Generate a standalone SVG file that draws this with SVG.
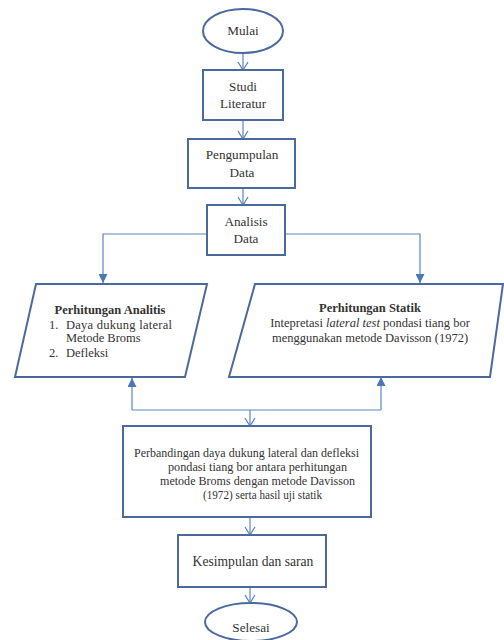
<svg xmlns="http://www.w3.org/2000/svg" width="504" height="640" viewBox="0 0 504 640" font-family="'Liberation Serif', 'DejaVu Serif', serif">
<style>
.shape{fill:#ffffff;stroke:#4a6a9e;stroke-width:2}
.conn{fill:none;stroke:#5b86c0;stroke-width:1.2}
text{font-family:'Liberation Serif','DejaVu Serif',serif;font-size:12.5px;fill:#333333}
.c{text-anchor:middle}
.b{font-weight:bold}
.l{font-size:13.2px}
.xl{font-size:13.6px}
</style>
<defs>
<marker id="open" markerWidth="10" markerHeight="12" refX="9" refY="6" orient="auto" markerUnits="userSpaceOnUse" viewBox="0 0 10 12">
<path d="M1,1 L9,6 L1,11" fill="none" stroke="#5b86c0" stroke-width="1.3"/>
</marker>
<marker id="fill" markerWidth="9" markerHeight="9" refX="9" refY="4.5" orient="auto" markerUnits="userSpaceOnUse" viewBox="0 0 9 9">
<path d="M0,0 L9,4.5 L0,9 Z" fill="#4a78b5"/>
</marker>
</defs>
<rect width="504" height="640" fill="#ffffff"/>
<g id="connectors">
<line class="conn" x1="243" y1="53" x2="243" y2="70" marker-end="url(#open)"/>
<line class="conn" x1="243" y1="120" x2="243" y2="139" marker-end="url(#open)"/>
<line class="conn" x1="243" y1="188" x2="243" y2="205" marker-end="url(#open)"/>
<polyline class="conn" points="207,234 103,234 103,283" marker-end="url(#fill)"/>
<polyline class="conn" points="285,234 420,234 420,283" marker-end="url(#fill)"/>
<polyline class="conn" points="132,410 132,378" marker-end="url(#fill)"/>
<polyline class="conn" points="381,410 381,377" marker-end="url(#fill)"/>
<line class="conn" x1="132" y1="410" x2="381" y2="410"/>
<line class="conn" x1="250" y1="410" x2="250" y2="426" marker-end="url(#open)"/>
<line class="conn" x1="250" y1="517" x2="250" y2="535" marker-end="url(#open)"/>
<line class="conn" x1="250" y1="587" x2="250" y2="603" marker-end="url(#open)"/>
</g>
<g id="mulai">
<ellipse class="shape" cx="243" cy="31" rx="40" ry="22"/>
<text class="c l" x="243" y="35">Mulai</text>
</g>
<g id="studi">
<rect class="shape" x="203" y="70" width="80" height="50"/>
<text class="c l" x="243" y="91">Studi</text>
<text class="c l" x="243" y="108">Literatur</text>
</g>
<g id="pengumpulan">
<rect class="shape" x="188" y="139" width="107" height="49"/>
<text class="c l" x="242" y="159">Pengumpulan</text>
<text class="c l" x="242" y="177">Data</text>
</g>
<g id="analisis">
<rect class="shape" x="207" y="205" width="78" height="50"/>
<text class="c l" x="246" y="226">Analisis</text>
<text class="c l" x="246" y="243">Data</text>
</g>
<g id="analitis">
<polygon class="shape" points="36,284 207,284 185,377 15,377"/>
<text class="c b" x="110" y="314">Perhitungan Analitis</text>
<text x="49" y="329">1.</text>
<text x="66" y="329" textLength="106" lengthAdjust="spacing">Daya dukung lateral</text>
<text x="66" y="342">Metode Broms</text>
<text x="49" y="357">2.</text>
<text x="66" y="357">Defleksi</text>
</g>
<g id="statik">
<polygon class="shape" points="255,284 503,284 490,377 229,377"/>
<text class="c b" x="370" y="312">Perhitungan Statik</text>
<text class="c" x="370" y="327">Intepretasi <tspan font-style="italic">lateral test</tspan> pondasi tiang bor</text>
<text class="c" x="370" y="342">menggunakan metode Davisson (1972)</text>
</g>
<g id="perbandingan">
<rect class="shape" x="123" y="426" width="248" height="91"/>
<text x="134" y="457" textLength="225" lengthAdjust="spacingAndGlyphs">Perbandingan daya dukung lateral dan defleksi</text>
<text x="168" y="471" textLength="179" lengthAdjust="spacingAndGlyphs">pondasi tiang bor antara perhitungan</text>
<text x="160" y="485" textLength="195" lengthAdjust="spacingAndGlyphs">metode Broms dengan metode Davisson</text>
<text x="203" y="499" textLength="119" lengthAdjust="spacingAndGlyphs">(1972) serta hasil uji statik</text>
</g>
<g id="kesimpulan">
<rect class="shape" x="178" y="535" width="148" height="52"/>
<text class="c xl" x="253" y="566">Kesimpulan dan saran</text>
</g>
<g id="selesai">
<ellipse class="shape" cx="251" cy="622" rx="46" ry="19"/>
<text class="c l" x="251" y="632">Selesai</text>
</g>
</svg>
